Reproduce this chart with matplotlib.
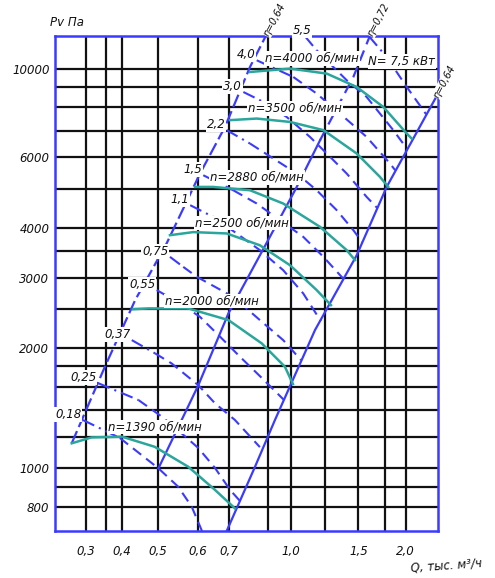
import numpy as np
import matplotlib
matplotlib.use('Agg')
import matplotlib.pyplot as plt

# Q in thousand m3/h, Pv in Pa
grid_q = [0.3, 0.35, 0.4, 0.5, 0.6, 0.7, 0.9, 1.0, 1.2, 1.5, 1.75, 2.0]
xtick_q = [0.3, 0.4, 0.5, 0.6, 0.7, 1.0, 1.5, 2.0]
xtick_labels = ['0,3', '0,4', '0,5', '0,6', '0,7', '1,0', '1,5', '2,0']
grid_p = [800, 900, 1000, 1200, 1400, 1600, 1800, 2000, 2500, 3000, 3500,
          4000, 5000, 6000, 7000, 8000, 9000, 10000]
ytick_p = [800, 1000, 2000, 3000, 4000, 6000, 10000]

# fan curves for each speed
speed_labels = ['n=1390 об/мин', 'n=2000 об/мин', 'n=2500 об/мин',
                'n=2880 об/мин', 'n=3500 об/мин', 'n=4000 об/мин']
q_1390 = [0.26, 0.313, 0.40, 0.49, 0.574, 0.653, 0.727]
p_1390 = [1155, 1195, 1200, 1132, 1009, 883, 794]
q_2000 = [0.428, 0.471, 0.574, 0.698, 0.862, 0.973, 1.012]
p_2000 = [2500, 2512, 2512, 2349, 2054, 1795, 1625]
q_2500 = [0.528, 0.587, 0.692, 0.852, 0.997, 1.148, 1.249]
p_2500 = [3830, 3899, 3869, 3614, 3221, 2792, 2560]
q_2880 = [0.592, 0.647, 0.800, 0.965, 1.169, 1.388, 1.467]
p_2880 = [5058, 5058, 4962, 4597, 4018, 3514, 3319]
q_3500 = [0.705, 0.835, 0.997, 1.19, 1.484, 1.70, 1.787]
p_3500 = [7431, 7499, 7355, 7015, 6132, 5358, 5058]
q_4000 = [0.800, 0.997, 1.214, 1.484, 1.733, 2.012, 2.069]
p_4000 = [9806, 10000, 9716, 8995, 8017, 6879, 6683]
fan_q = [q_1390, q_2000, q_2500, q_2880, q_3500, q_4000]
fan_p = [p_1390, p_2000, p_2500, p_2880, p_3500, p_4000]
speed_label_pos = [(0.49, 1269), (0.643, 2620), (0.76, 4105),
                   (0.836, 5350), (1.023, 7960), (1.12, 10610)]

# efficiency lines
eta_left_q = [0.26, 0.347, 0.434, 0.520, 0.606, 0.686, 0.800, 0.886]
eta_left_p = [1155, 1795, 2635, 3652, 5463, 7143, 10093, 12100]
eta_mid_q = [0.501, 0.601, 0.698, 0.906, 1.029, 1.169, 1.451, 1.605]
eta_mid_p = [1000, 1614, 2441, 3794, 5020, 6620, 9528, 12100]
eta_right_q = [0.692, 0.735, 0.826, 0.928, 1.060, 1.138, 1.484, 1.769, 2.373]
eta_right_p = [697, 794, 1009, 1321, 1866, 2218, 3412, 5058, 8475]

# motor power lines, kW
power_labels = ['0,18', '0,25', '0,37', '0,55', '0,75', '1,1', '1,5', '2,2',
                '3,0', '4,0', '5,5', '7,5']
power_q = [
    [0.291, 0.393, 0.501, 0.548, 0.583, 0.612],
    [0.329, 0.443, 0.509, 0.557, 0.601, 0.653, 0.705, 0.751],
    [0.425, 0.491, 0.532, 0.601, 0.653, 0.727, 0.852],
    [0.496, 0.553, 0.606, 0.670, 0.751, 0.863, 0.969],
    [0.528, 0.561, 0.597, 0.719, 0.852, 0.965, 1.056],
    [0.579, 0.647, 0.735, 0.852, 0.965, 1.069, 1.174],
    [0.616, 0.719, 0.835, 0.950, 1.069, 1.19, 1.36],
    [0.692, 0.800, 0.921, 1.033, 1.148, 1.298, 1.451, 1.534],
    [0.767, 0.890, 0.981, 1.108, 1.214, 1.388, 1.574, 1.675],
    [0.835, 1.014, 1.148, 1.327, 1.574, 1.807, 1.869],
    [1.079, 1.148, 1.269, 1.388, 1.574, 1.70, 1.846, 2.01],
    [1.595, 1.769, 1.846, 2.012, 2.209, 2.244],
]
power_p = [
    [1321, 1191, 1000, 900, 802, 697],
    [1634, 1482, 1346, 1223, 1124, 1002, 883, 828],
    [2093, 1939, 1830, 1614, 1454, 1321, 1130],
    [2792, 2585, 2393, 2133, 1901, 1682, 1482],
    [3381, 3191, 3013, 2685, 2349, 2093, 1866],
    [4553, 4256, 3869, 3514, 3131, 2738, 2335],
    [5410, 4962, 4597, 4177, 3794, 3381, 2974],
    [7015, 6494, 5957, 5463, 4962, 4424, 3943, 3679],
    [8738, 8174, 7568, 6745, 6132, 5463, 4775, 4476],
    [10490, 9528, 8660, 7716, 6745, 5788, 5569],
    [12043, 11110, 10093, 9350, 8492, 7716, 7015, 6321],
    [12050, 10690, 10093, 8995, 7867, 7688],
]

# hand drawn, uneven Q axis: grid positions (pixels) used to build the scale
scale_q = [0.22, 0.3, 0.35, 0.4, 0.5, 0.6, 0.7, 0.9, 1.0, 1.2, 1.5, 1.75, 2.0, 2.4]
scale_px = [55, 86, 106, 122, 158, 198, 229, 268.5, 290.7, 325, 358.3, 385, 405.7, 438]
lq = np.log10(scale_q)


def fwd(q):
    return np.interp(np.log10(np.clip(q, 1e-6, None)), lq, scale_px)


def inv(x):
    return 10 ** np.interp(x, scale_px, lq)


BLUE = '#3b3bff'
TEAL = '#2aa69c'
txt = dict(fontsize=8.5, style='italic', color='#111111')
box = dict(facecolor='white', edgecolor='none', pad=0.6)

fig = plt.figure(figsize=(4.95, 5.78), dpi=100)
ax = fig.add_axes([55 / 495, 47 / 578, 383 / 495, 495.5 / 578])
ax.set_xscale('function', functions=(fwd, inv))
ax.set_yscale('log')
ax.set_xlim(0.22, 2.4)
ax.set_ylim(697, 12100)

for q in grid_q:
    ax.axvline(q, color='#111111', lw=1.6, zorder=1)
for p in grid_p:
    ax.axhline(p, color='#111111', lw=1.6, zorder=1)

ax.set_xticks(xtick_q)
ax.set_xticklabels(xtick_labels, **txt)
ax.set_yticks(ytick_p)
ax.set_yticklabels([str(v) for v in ytick_p], **txt)
ax.minorticks_off()
ax.tick_params(length=0)
ax.tick_params(axis='x', pad=10)
ax.tick_params(axis='y', pad=4)
for s in ax.spines.values():
    s.set_color(BLUE)
    s.set_linewidth(1.8)
    s.set_zorder(6)

# efficiency lines
ax.plot(eta_left_q, eta_left_p, color=BLUE, lw=1.6, dashes=(6, 2), zorder=3)
ax.plot(eta_mid_q[:6], eta_mid_p[:6], color=BLUE, lw=1.6, zorder=3)
ax.plot(eta_mid_q[5:], eta_mid_p[5:], color=BLUE, lw=1.6, dashes=(5, 3), zorder=3)
ax.plot(eta_right_q, eta_right_p, color=BLUE, lw=1.6, zorder=3)

# power lines
for lab, q, p in zip(power_labels, power_q, power_p):
    ax.plot(q[:2], p[:2], color=BLUE, lw=1.5, dashes=(6, 2.5, 1, 2.5), zorder=3)
    ax.plot(q[1:], p[1:], color=BLUE, lw=1.5, dashes=(5, 3), zorder=3)
    if lab == '7,5':
        continue
    if lab == '5,5':
        ax.annotate(lab, (q[0], p[0]), xytext=(-2, 4), textcoords='offset points',
                    ha='center', va='center', bbox=box, zorder=7,
                    annotation_clip=False, **txt)
    else:
        ax.annotate(lab, (q[0], p[0]), xytext=(-1, 4), textcoords='offset points',
                    ha='right', va='center', bbox=box, zorder=7, **txt)
ax.text(1.95, 10400, 'N= 7,5 кВт', ha='center', va='center', bbox=box,
        zorder=7, **txt)

# fan curves
for q, p in zip(fan_q, fan_p):
    ax.plot(q, p, color=TEAL, lw=1.8, zorder=4)
for lab, (q, p) in zip(speed_labels, speed_label_pos):
    ax.text(q, p, lab, ha='center', va='center', bbox=box, zorder=7, **txt)

# efficiency labels at the line ends
eta_txt = dict(txt, fontsize=7)
for lab, q, p in [('η=0,64', eta_left_q[-1], eta_left_p[-1]),
                  ('η=0,72', eta_mid_q[-1], eta_mid_p[-1]),
                  ('η=0,64', eta_right_q[-1], eta_right_p[-1])]:
    ax.annotate(lab, (q, p), xytext=(0, 0), textcoords='offset points',
                rotation=62, rotation_mode='anchor', ha='left', va='center',
                bbox=dict(box, pad=0.3), zorder=7, annotation_clip=False,
                **eta_txt)

fig.text(50 / 495, 1 - 22 / 578, 'Pv Па', ha='left', va='center', **txt)
fig.text(410 / 495, 1 - 566 / 578, 'Q, тыс. м³/ч', ha='left', va='center',
         rotation=4, **txt)

fig.savefig('out.png', dpi=100)
